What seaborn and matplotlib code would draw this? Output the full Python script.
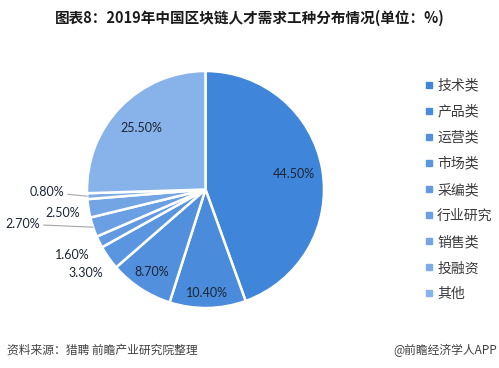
import matplotlib
matplotlib.use('Agg')
import matplotlib.pyplot as plt
import seaborn as sns
import numpy as np
from matplotlib.lines import Line2D

# ---------------- data ----------------
categories = ['技术类', '产品类', '运营类', '市场类', '采编类', '行业研究', '销售类', '投融资', '其他']
shares = [44.5, 10.4, 8.7, 3.3, 1.6, 2.7, 2.5, 0.8, 25.5]
title_text = '图表8：2019年中国区块链人才需求工种分布情况(单位：%)'
source_text = '资料来源：猎聘 前瞻产业研究院整理'
credit_text = '@前瞻经济学人APP'

# ---------------- style ----------------
sns.set_theme(style='white')
plt.rcParams['font.family'] = ['Noto Sans CJK SC', 'DejaVu Sans']

colors = sns.color_palette(['#3F85DA', '#4A8BDC', '#5290DE', '#5A95E0', '#6299E1',
                            '#6A9FE3', '#73A5E5', '#7CABE7', '#88B3EA'])

W, H = 499, 368
fig = plt.figure(figsize=(W / 100, H / 100), dpi=100)

R = 118.5            # pie radius in px
cx, cy = 205.5, 189.5  # pie centre (px from left / top)
half_w, half_h = cx, 150
ax = fig.add_axes([(cx - half_w) / W, (H - cy - half_h) / H, 2 * half_w / W, 2 * half_h / H])

wedges, _ = ax.pie(shares, colors=colors, startangle=90, counterclock=False,
                   wedgeprops=dict(edgecolor='white', linewidth=1.8))
ax.set_xlim(-half_w / R, half_w / R)
ax.set_ylim(-half_h / R, half_h / R)
ax.set_aspect('auto')
ax.axis('off')

# label placement styles: (radius factor, leader offset in px or None)
label_style = [(0.76, None), (0.87, None), (0.83, None), (1.23, None), (1.25, None),
               (1.0, (-70, 3)), (1.22, None), (1.0, (-40, 4)), (0.75, None)]
lab_font = dict(family=['Lato', 'DejaVu Sans'], fontsize=9, color='#1c2533')
for w, v, (rf, lead) in zip(wedges, shares, label_style):
    mid = np.deg2rad((w.theta1 + w.theta2) / 2)
    txt = f'{v:.2f}%'
    if lead is None:
        ax.text(rf * np.cos(mid), rf * np.sin(mid), txt, ha='center', va='center', **lab_font)
    else:
        ex, ey = np.cos(mid), np.sin(mid)
        ax.annotate(txt, xy=(ex, ey), xytext=(ex + lead[0] / R, ey + lead[1] / R),
                    ha='center', va='center',
                    arrowprops=dict(arrowstyle='-', color='#a6a6a6', lw=0.8,
                                    shrinkA=0, shrinkB=0),
                    **lab_font)

handles = [Line2D([0], [0], marker='s', linestyle='none', markersize=3.8,
                  markerfacecolor=c, markeredgecolor=c) for c in colors]
fig.legend(handles, categories, loc='center left', bbox_to_anchor=(426 / W, 1 - 190 / H),
           bbox_transform=fig.transFigure, frameon=False, fontsize=10,
           labelspacing=0.87, handlelength=0.5, handletextpad=0.3, borderpad=0,
           borderaxespad=0, labelcolor='#3a3a3a')

fig.text(250 / W, 1 - 18 / H, title_text, ha='center', va='center',
         fontsize=10.5, fontweight='bold', color='#1a1a1a')
fig.text(7 / W, 1 - 350 / H, source_text, ha='left', va='center', fontsize=8.5, color='#404040')
fig.text(497 / W, 1 - 350 / H, credit_text, ha='right', va='center', fontsize=8.5, color='#404040')

fig.savefig('out.png', dpi=100)
